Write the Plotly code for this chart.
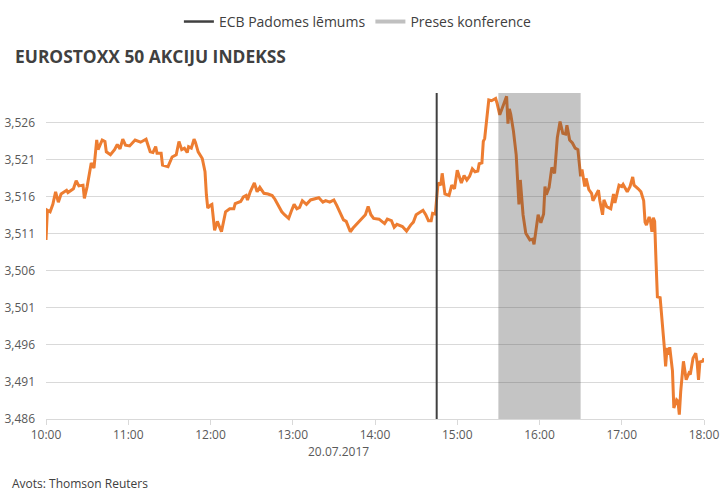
import pandas as pd
import plotly.graph_objects as go

# ---- data -------------------------------------------------------------
trade_date = "2017-07-20"
times = [
    "10:00", "10:01", "10:03", "10:05", "10:07", "10:09", "10:11", "10:15", "10:16", "10:20",
    "10:22", "10:24", "10:27", "10:28", "10:30", "10:32", "10:33", "10:35", "10:37", "10:38",
    "10:41", "10:43", "10:44", "10:47", "10:50", "10:52", "10:54", "10:56", "10:58", "11:01",
    "11:05", "11:09", "11:13", "11:16", "11:18", "11:20", "11:21", "11:24", "11:25", "11:29",
    "11:32", "11:35", "11:37", "11:39", "11:41", "11:43", "11:44", "11:46", "11:48", "11:49",
    "11:51", "11:54", "11:56", "11:57", "11:58", "12:00", "12:01", "12:03", "12:05", "12:08",
    "12:09", "12:11", "12:14", "12:17", "12:18", "12:22", "12:24", "12:26", "12:27", "12:29",
    "12:32", "12:34", "12:36", "12:39", "12:42", "12:45", "12:47", "12:50", "12:52", "12:54",
    "12:57", "12:59", "13:01", "13:03", "13:05", "13:07", "13:10", "13:13", "13:15", "13:19",
    "13:22", "13:24", "13:27", "13:30", "13:32", "13:35", "13:37", "13:39", "13:42", "13:44",
    "13:47", "13:50", "13:53", "13:55", "13:57", "13:59", "14:03", "14:05", "14:07", "14:09",
    "14:12", "14:14", "14:16", "14:20", "14:23", "14:26", "14:28", "14:30", "14:33", "14:35",
    "14:37", "14:39", "14:41", "14:42", "14:44", "14:46", "14:48", "14:49", "14:51", "14:54",
    "14:56", "14:58", "15:00", "15:03", "15:05", "15:07", "15:09", "15:11", "15:13", "15:15",
    "15:16", "15:18", "15:19", "15:20", "15:23", "15:25", "15:28", "15:29", "15:31", "15:33",
    "15:34", "15:36", "15:37", "15:38", "15:39", "15:41", "15:43", "15:45", "15:46", "15:48",
    "15:50", "15:53", "15:55", "15:56", "15:58", "15:59", "16:01", "16:03", "16:04", "16:05",
    "16:07", "16:09", "16:11", "16:13", "16:15", "16:17", "16:19", "16:20", "16:22", "16:24",
    "16:26", "16:28", "16:30", "16:31", "16:33", "16:34", "16:36", "16:38", "16:39", "16:41",
    "16:43", "16:44", "16:46", "16:47", "16:49", "16:52", "16:54", "16:55", "16:58", "17:00",
    "17:01", "17:04", "17:06", "17:08", "17:09", "17:12", "17:14", "17:16", "17:17", "17:18",
    "17:20", "17:21", "17:22", "17:23", "17:24", "17:25", "17:26", "17:28", "17:29", "17:31",
    "17:32", "17:33", "17:34", "17:35", "17:37", "17:38", "17:40", "17:41", "17:42", "17:43",
    "17:45", "17:47", "17:49", "17:50", "17:52", "17:54", "17:55", "17:56", "17:57", "17:59",
    "18:00",
]
index_values = [
    3510.2, 3514.2, 3514.0, 3515.0, 3516.7, 3515.3, 3516.4, 3516.9, 3516.6, 3517.1,
    3518.2, 3517.5, 3517.6, 3515.8, 3517.4, 3519.9, 3520.6, 3519.9, 3523.7, 3522.4,
    3523.7, 3523.5, 3522.1, 3521.7, 3522.4, 3523.1, 3522.5, 3523.8, 3523.0, 3522.9,
    3523.7, 3523.4, 3523.8, 3522.1, 3522.0, 3522.8, 3521.9, 3521.9, 3520.3, 3520.1,
    3521.4, 3521.7, 3523.5, 3522.4, 3522.6, 3522.0, 3522.8, 3522.6, 3523.8, 3523.4,
    3522.1, 3521.2, 3519.4, 3516.3, 3514.5, 3514.9, 3515.0, 3511.5, 3512.7, 3511.3,
    3512.2, 3514.0, 3514.4, 3514.4, 3515.1, 3515.4, 3516.0, 3516.2, 3515.6, 3516.7,
    3517.9, 3516.7, 3517.3, 3516.5, 3516.4, 3516.2, 3515.7, 3514.7, 3514.0, 3513.6,
    3513.1, 3514.1, 3515.0, 3514.4, 3514.6, 3515.5, 3515.0, 3515.6, 3515.7, 3515.9,
    3515.3, 3515.5, 3515.3, 3515.6, 3514.9, 3513.6, 3512.9, 3512.7, 3511.3, 3511.8,
    3512.4, 3513.0, 3513.6, 3514.7, 3513.6, 3513.1, 3513.0, 3512.7, 3512.4, 3513.0,
    3512.8, 3511.9, 3512.3, 3512.0, 3511.4, 3512.2, 3512.6, 3513.6, 3514.0, 3514.2,
    3513.6, 3512.8, 3512.8, 3513.8, 3513.7, 3517.9, 3517.6, 3519.2, 3516.4, 3516.2,
    3517.6, 3517.1, 3519.6, 3517.9, 3518.9, 3518.3, 3518.8, 3519.8, 3519.4, 3519.5,
    3520.5, 3520.6, 3523.5, 3523.9, 3529.1, 3529.0, 3529.3, 3528.7, 3527.1, 3528.3,
    3528.6, 3529.6, 3525.9, 3527.9, 3527.2, 3524.9, 3521.7, 3515.0, 3518.3, 3513.6,
    3511.1, 3510.2, 3510.3, 3509.6, 3512.7, 3513.6, 3512.5, 3513.7, 3517.4, 3516.3,
    3517.3, 3520.0, 3519.2, 3524.0, 3526.2, 3524.6, 3524.5, 3525.7, 3523.7, 3523.3,
    3522.6, 3522.4, 3518.8, 3519.7, 3517.4, 3518.5, 3517.0, 3516.5, 3515.5, 3516.2,
    3516.9, 3515.5, 3513.6, 3515.6, 3514.7, 3514.4, 3516.4, 3515.2, 3517.6, 3517.4,
    3517.7, 3516.7, 3517.4, 3518.7, 3517.6, 3517.1, 3516.7, 3515.5, 3512.6, 3512.2,
    3513.3, 3512.7, 3511.3, 3513.2, 3512.7, 3507.3, 3502.5, 3502.4, 3500.5, 3495.8,
    3493.1, 3495.6, 3494.7, 3495.7, 3492.5, 3487.5, 3488.6, 3488.4, 3486.6, 3489.7,
    3493.8, 3491.3, 3492.2, 3492.0, 3494.2, 3494.9, 3493.6, 3491.3, 3493.7, 3493.8,
    3494.2,
]
x_tick_labels = ["10:00", "11:00", "12:00", "13:00", "14:00", "15:00", "16:00", "17:00", "18:00"]
y_tick_values = [3486, 3491, 3496, 3501, 3506, 3511, 3516, 3521, 3526]
ecb_decision_time = "14:45"
press_conference = ["15:30", "16:30"]
legend_names = ["ECB Padomes lēmums", "Preses konference"]

# ---- figure -----------------------------------------------------------
def ts(t):
    return pd.Timestamp(f"{trade_date} {t}")

x = [ts(t) for t in times]
FONT = "Open Sans"
TXT = "#595959"

fig = go.Figure()
fig.add_trace(go.Scatter(x=x, y=index_values, mode="lines",
                         line=dict(color="#ED7D31", width=3),
                         showlegend=False, hoverinfo="skip"))
# legend-only entries
fig.add_trace(go.Scatter(x=[None], y=[None], mode="lines", name=legend_names[0],
                         line=dict(color="#404040", width=2.5)))
fig.add_trace(go.Scatter(x=[None], y=[None], mode="lines", name=legend_names[1],
                         line=dict(color="#C0C0C0", width=4)))

fig.add_shape(type="rect", xref="x", yref="paper",
              x0=ts(press_conference[0]), x1=ts(press_conference[1]), y0=0, y1=1,
              fillcolor="rgba(64,64,64,0.31)", line=dict(width=0), layer="above")
fig.add_shape(type="line", xref="x", yref="paper",
              x0=ts(ecb_decision_time), x1=ts(ecb_decision_time), y0=0, y1=1,
              line=dict(color="#404040", width=2), layer="above")

fig.update_layout(
    width=727, height=499,
    margin=dict(l=46, r=23, t=93, b=80, autoexpand=False),
    paper_bgcolor="white", plot_bgcolor="white",
    font=dict(family=FONT, size=12, color=TXT),
    title=dict(text="<b>EUROSTOXX 50 AKCIJU INDEKSS</b>",
               font=dict(family=FONT, size=17.4, color="#404040"),
               xref="container", yref="container",
               x=15 / 727, xanchor="left", y=1 - 57 / 499, yanchor="middle"),
    legend=dict(orientation="h", x=0.474, xanchor="center", y=1.218, yanchor="middle",
                font=dict(family=FONT, size=14, color="#404040"),
                itemwidth=30, tracegroupgap=0, bgcolor="rgba(0,0,0,0)"),
    showlegend=True,
)
fig.update_xaxes(
    range=[ts(x_tick_labels[0]), ts(x_tick_labels[-1])],
    tickvals=[ts(t) for t in x_tick_labels], ticktext=x_tick_labels,
    showgrid=False, showline=True, linecolor="#D9D9D9", linewidth=1,
    ticks="outside", ticklen=5, tickcolor="#D9D9D9",
    tickfont=dict(family=FONT, size=12, color=TXT), zeroline=False,
    automargin=False,
)
fig.update_yaxes(
    range=[3486, 3530.05],
    tickvals=y_tick_values, tickformat=",d",
    showgrid=True, gridcolor="#D9D9D9", gridwidth=1,
    showline=False, zeroline=False, ticks="",
    tickfont=dict(family=FONT, size=12, color=TXT),
    ticklabelstandoff=10, automargin=False,
)
fig.add_annotation(text="20.07.2017", xref="paper", yref="paper",
                   x=0.445, y=-0.101, xanchor="center", yanchor="middle",
                   showarrow=False, font=dict(family=FONT, size=12, color=TXT))
fig.add_annotation(text="Avots: Thomson Reuters", xref="paper", yref="paper",
                   x=(10 - 46) / 658, y=(419 - 483) / 326, xanchor="left", yanchor="middle",
                   showarrow=False, font=dict(family=FONT, size=12, color="#404040"))

fig.write_html("out.html")
